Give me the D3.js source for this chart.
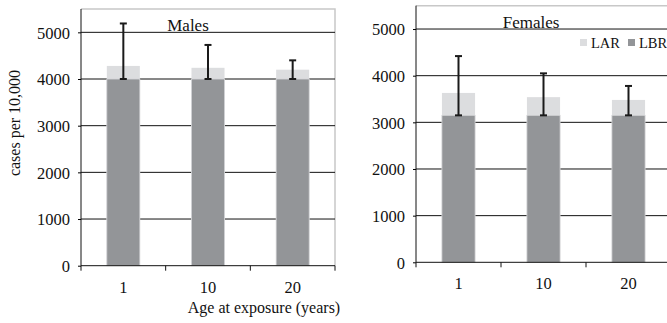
<!DOCTYPE html>
<meta charset="utf-8">
<style>
  body { margin: 0; background: #fff; }
</style>
<svg width="667" height="323"></svg>
<script src="https://d3js.org/d3.v7.min.js"></script>
<script>
// data
var ages = ["1", "10", "20"];
var maleLBR = [4000, 4000, 4000];
var maleLAR = [4280, 4240, 4200];
var maleUpper = [5190, 4730, 4400];
var femaleLBR = [3150, 3150, 3150];
var femaleLAR = [3630, 3540, 3480];
var femaleUpper = [4420, 4050, 3780];
var yTicks = [0, 1000, 2000, 3000, 4000, 5000];

var serif = "'Liberation Serif', serif";
var svg = d3.select("svg");
var larColor = "#dcdddf", lbrColor = "#939598";

function panel(opt) {
  var g = svg.append("g");
  var x = d3.scaleBand().domain(ages).range([opt.x0, opt.x1]).paddingInner(0).paddingOuter(0);
  var y = d3.scaleLinear().domain([0, 5500]).range([opt.y0, opt.y1]);
  var bw = x.bandwidth() * 0.39;

  // light frame top/right
  g.append("path")
    .attr("d", "M" + opt.x0 + "," + opt.y1 + "H" + opt.x1 + "V" + opt.y0)
    .attr("fill", "none").attr("stroke", "#c8c8c8").attr("stroke-width", 1.5);

  // gridlines
  g.selectAll(".grid").data(yTicks.slice(1)).enter().append("line")
    .attr("x1", opt.x0).attr("x2", opt.x1)
    .attr("y1", function(d) { return y(d); }).attr("y2", function(d) { return y(d); })
    .attr("stroke", "#111").attr("stroke-width", 1);

  // bars: LAR behind, LBR in front
  g.selectAll(".lar").data(opt.lar).enter().append("rect")
    .attr("x", function(d, i) { return x(ages[i]) + x.bandwidth() / 2 - bw / 2; })
    .attr("width", bw)
    .attr("y", function(d) { return y(d); })
    .attr("height", function(d) { return y(0) - y(d); })
    .attr("fill", larColor);
  g.selectAll(".lbr").data(opt.lbr).enter().append("rect")
    .attr("x", function(d, i) { return x(ages[i]) + x.bandwidth() / 2 - bw / 2; })
    .attr("width", bw)
    .attr("y", function(d) { return y(d); })
    .attr("height", function(d) { return y(0) - y(d); })
    .attr("fill", lbrColor).attr("stroke", "#d4d5d7").attr("stroke-width", 0.8);

  // error bars from LBR up to upper value
  var eb = g.selectAll(".err").data(opt.upper).enter().append("g")
    .attr("stroke", "#1a1a1a").attr("stroke-width", 2);
  eb.append("line")
    .attr("x1", function(d, i) { return x(ages[i]) + x.bandwidth() / 2; })
    .attr("x2", function(d, i) { return x(ages[i]) + x.bandwidth() / 2; })
    .attr("y1", function(d, i) { return y(opt.lbr[i]); })
    .attr("y2", function(d) { return y(d); });
  [function(d) { return y(d); }, function(d, i) { return y(opt.lbr[i]); }].forEach(function(fy) {
    eb.append("line")
      .attr("x1", function(d, i) { return x(ages[i]) + x.bandwidth() / 2 - 3.5; })
      .attr("x2", function(d, i) { return x(ages[i]) + x.bandwidth() / 2 + 3.5; })
      .attr("y1", fy).attr("y2", fy);
  });

  // y axis
  var ya = g.append("g").attr("transform", "translate(" + opt.x0 + ",0)")
    .call(d3.axisLeft(y).tickValues(yTicks).tickSize(3).tickPadding(8).tickFormat(d3.format("d")));
  ya.attr("font-family", null);
  ya.select(".domain").attr("stroke", "#111").attr("d", "M0," + opt.y0 + "V" + opt.y1);
  ya.selectAll("text").style("font-size", "16.5px").style("font-family", serif).attr("fill", "#111").attr("dy", "0.35em");

  // x axis
  var xa = g.append("g").attr("transform", "translate(0," + opt.y0 + ")");
  xa.append("line").attr("x1", opt.x0).attr("x2", opt.x1).attr("stroke", "#111");
  xa.selectAll(".xt").data(d3.range(ages.length + 1)).enter().append("line")
    .attr("x1", function(d) { return opt.x0 + d * x.bandwidth(); })
    .attr("x2", function(d) { return opt.x0 + d * x.bandwidth(); })
    .attr("y1", 0).attr("y2", 5).attr("stroke", "#111");
  xa.selectAll(".xl").data(ages).enter().append("text")
    .attr("x", function(d) { return x(d) + x.bandwidth() / 2; })
    .attr("y", 27).attr("text-anchor", "middle")
    .style("font-size", "16.5px").style("font-family", serif).attr("fill", "#111")
    .text(function(d) { return d; });

  g.append("text").attr("x", opt.titleX).attr("y", opt.y1 + 22)
    .attr("text-anchor", "middle").style("font-size", "17px").style("font-family", serif).attr("fill", "#111")
    .text(opt.title);
  return { x: x, y: y, g: g };
}

panel({ x0: 81, x1: 335, y0: 265.7, y1: 9, lbr: maleLBR, lar: maleLAR, upper: maleUpper, title: "Males", titleX: 188 });
panel({ x0: 416, x1: 671, y0: 262.3, y1: 5.7, lbr: femaleLBR, lar: femaleLAR, upper: femaleUpper, title: "Females", titleX: 531 });

// axis titles
svg.append("text").attr("transform", "translate(20,123) rotate(-90)")
  .attr("text-anchor", "middle").style("font-size", "16px").style("font-family", serif).attr("fill", "#111")
  .text("cases per 10,000");
svg.append("text").attr("x", 264).attr("y", 313)
  .attr("text-anchor", "middle").style("font-size", "16px").style("font-family", serif).attr("fill", "#111")
  .text("Age at exposure (years)");

// legend
var legend = [["LAR", larColor, 580], ["LBR", lbrColor, 628]];
var lg = svg.selectAll(".leg").data(legend).enter().append("g");
lg.append("rect").attr("x", function(d) { return d[2]; }).attr("y", 39).attr("width", 7).attr("height", 7)
  .attr("fill", function(d) { return d[1]; });
lg.append("text").attr("x", function(d) { return d[2] + 11; }).attr("y", 47.5)
  .style("font-size", "14.5px").style("font-family", serif).attr("fill", "#111")
  .text(function(d) { return d[0]; });
</script>
